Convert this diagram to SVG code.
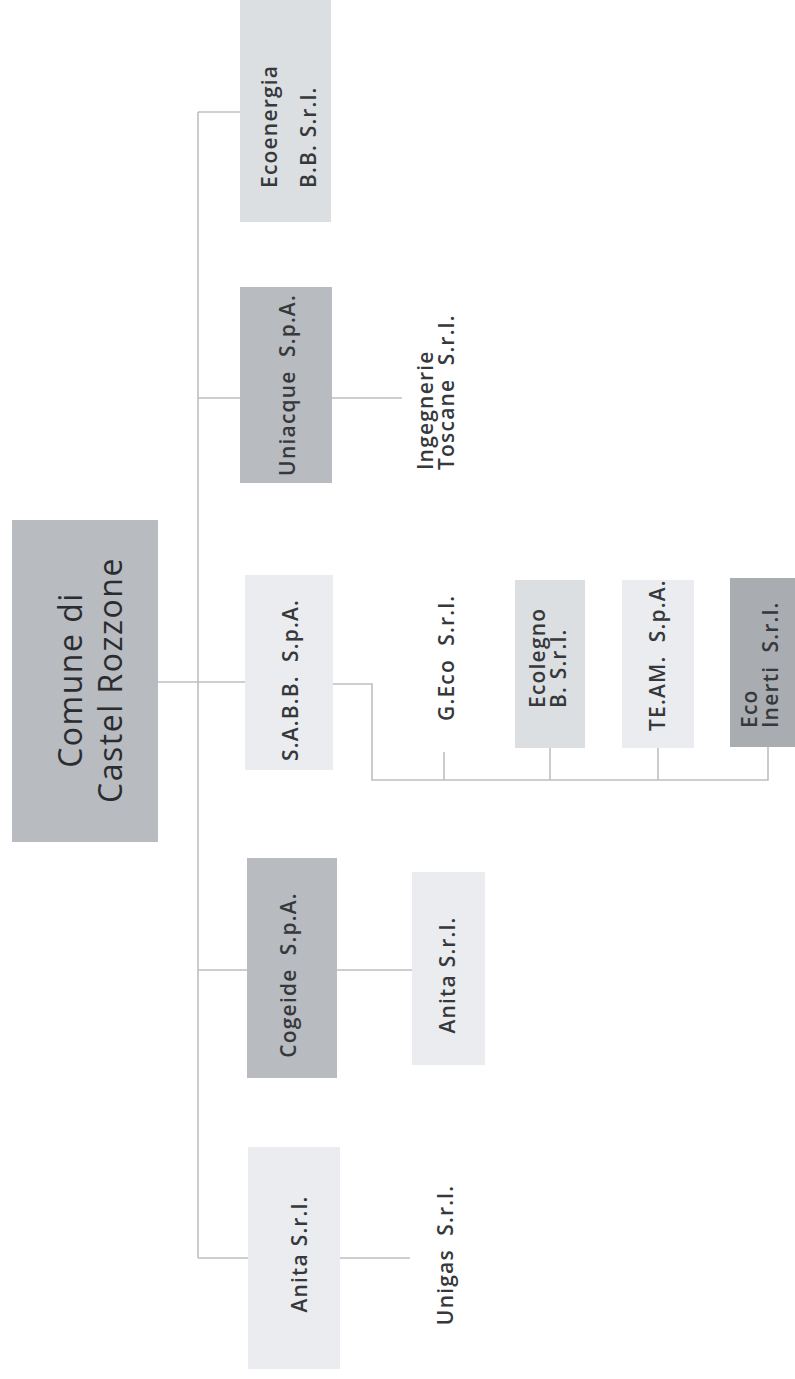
<svg xmlns="http://www.w3.org/2000/svg" width="795" height="1379" viewBox="0 0 795 1379">
<style>
.bg{fill:#ffffff}
.dark{fill:#b8bbbf}
.mid{fill:#a9acb0}
.light{fill:#dcdfe2}
.pale{fill:#eaecef}
.t{font-family:"Open Sans","Liberation Sans",sans-serif;font-size:21px;font-weight:600;fill:#36383b;letter-spacing:1.2px;white-space:pre}
.root{font-family:"Open Sans","Liberation Sans",sans-serif;font-size:32px;font-weight:500;fill:#2a2c2f;letter-spacing:1.5px}
.c{fill:none;stroke:#bcbfc2;stroke-width:1.6}
</style>
<rect class="bg" x="0" y="0" width="795" height="1379"/>
<g id="connectors">
<path class="c" d="M198 112V1258"/>
<path class="c" d="M198 112H240"/>
<path class="c" d="M198 398H240M332 398H402"/>
<path class="c" d="M158 682H245"/>
<path class="c" d="M333 684H372V780H768V747"/>
<path class="c" d="M444 752V780M550 748V780M658 748V780"/>
<path class="c" d="M198 970H247M337 970H412"/>
<path class="c" d="M198 1258H248M340 1258H410"/>
</g>
<g id="root">
<rect class="dark" x="12" y="520" width="146" height="322"/>
<text class="root" transform="translate(82 680) rotate(-90)" text-anchor="middle">Comune di</text>
<text class="root" transform="translate(122 680) rotate(-90)" text-anchor="middle">Castel Rozzone</text>
</g>
<g id="ecoenergia">
<rect class="light" x="240" y="0" width="91" height="222"/>
<text class="t" transform="translate(277 188) rotate(-90)">Ecoenergia</text>
<text class="t" transform="translate(316 188) rotate(-90)">B.B. S.r.l.</text>
</g>
<g id="uniacque">
<rect class="dark" x="240" y="287" width="92" height="196"/>
<text class="t" transform="translate(295 385) rotate(-90)" text-anchor="middle">Uniacque  S.p.A.</text>
</g>
<g id="ingegnerie">
<text class="t" transform="translate(433 470) rotate(-90)">Ingegnerie</text>
<text class="t" transform="translate(454 470) rotate(-90)">Toscane  S.r.l.</text>
</g>
<g id="sabb">
<rect class="pale" x="245" y="575" width="88" height="195"/>
<text class="t" transform="translate(298 680) rotate(-90)" text-anchor="middle">S.A.B.B.  S.p.A.</text>
</g>
<g id="geco">
<text class="t" transform="translate(454 721) rotate(-90)">G.Eco  S.r.l.</text>
</g>
<g id="ecolegno">
<rect class="light" x="515" y="580" width="70" height="168"/>
<text class="t" transform="translate(545 708) rotate(-90)">Ecolegno</text>
<text class="t" transform="translate(566 708) rotate(-90)">B. S.r.l.</text>
</g>
<g id="team">
<rect class="pale" x="622" y="580" width="72" height="168"/>
<text class="t" transform="translate(665 731) rotate(-90)">TE.AM.  S.p.A.</text>
</g>
<g id="ecoinerti">
<rect class="mid" x="730" y="578" width="70" height="169"/>
<text class="t" transform="translate(757 728) rotate(-90)">Eco</text>
<text class="t" transform="translate(778 728) rotate(-90)">Inerti  S.r.l.</text>
</g>
<g id="cogeide">
<rect class="dark" x="247" y="858" width="90" height="220"/>
<text class="t" transform="translate(296 975) rotate(-90)" text-anchor="middle">Cogeide  S.p.A.</text>
</g>
<g id="anita2">
<rect class="pale" x="412" y="872" width="73" height="193"/>
<text class="t" transform="translate(455 975) rotate(-90)" text-anchor="middle">Anita S.r.l.</text>
</g>
<g id="anita1">
<rect class="pale" x="248" y="1147" width="92" height="222"/>
<text class="t" transform="translate(307 1254) rotate(-90)" text-anchor="middle">Anita S.r.l.</text>
</g>
<g id="unigas">
<text class="t" transform="translate(453 1255) rotate(-90)" text-anchor="middle">Unigas  S.r.l.</text>
</g>
</svg>
